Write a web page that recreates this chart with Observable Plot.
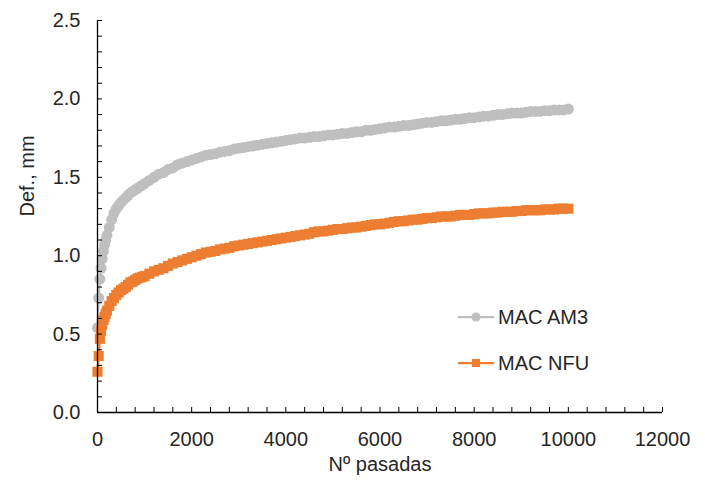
<!DOCTYPE html>
<html><head><meta charset="utf-8">
<script src="https://cdn.jsdelivr.net/npm/d3@7"></script>
<script src="https://cdn.jsdelivr.net/npm/@observablehq/plot@0.6"></script>
<style>
body{margin:0;background:#fff;font-family:"Liberation Sans",Arial,sans-serif;}
#wrap{position:relative;width:705px;height:480px;}
.leg{position:absolute;display:flex;align-items:center;font-size:20px;color:#262626;line-height:1;}
.leg svg{margin-right:4px;}
</style></head><body><div id="wrap"></div>
<script>
// Nº pasadas
const passes = [0, 25, 50, 75, 100, 125, 150, 175, 200, 250, 300, 350, 400, 450, 500,
  550, 600, 650, 700, 750, 800, 850, 900, 950, 1000,
  1100, 1200, 1300, 1400, 1500, 1600, 1700, 1800, 1900, 2000,
  2100, 2200, 2300, 2400, 2500, 2600, 2700, 2800, 2900, 3000,
  3100, 3200, 3300, 3400, 3500, 3600, 3700, 3800, 3900, 4000,
  4100, 4200, 4300, 4400, 4500, 4600, 4700, 4800, 4900, 5000,
  5100, 5200, 5300, 5400, 5500, 5600, 5700, 5800, 5900, 6000,
  6100, 6200, 6300, 6400, 6500, 6600, 6700, 6800, 6900, 7000,
  7100, 7200, 7300, 7400, 7500, 7600, 7700, 7800, 7900, 8000,
  8100, 8200, 8300, 8400, 8500, 8600, 8700, 8800, 8900, 9000,
  9100, 9200, 9300, 9400, 9500, 9600, 9700, 9800, 9900, 10000];
// Def., mm — MAC AM3
const macAM3 = [0.54, 0.73, 0.85, 0.92, 0.98, 1.03, 1.07, 1.10, 1.13, 1.18, 1.23, 1.27, 1.30, 1.32, 1.34,
  1.355, 1.37, 1.385, 1.40, 1.41, 1.42, 1.43, 1.44, 1.45, 1.46,
  1.48, 1.50, 1.52, 1.53, 1.55, 1.56, 1.58, 1.59, 1.60, 1.61,
  1.62, 1.63, 1.64, 1.645, 1.65, 1.66, 1.665, 1.67, 1.68, 1.685,
  1.69, 1.695, 1.70, 1.705, 1.71, 1.715, 1.72, 1.725, 1.73, 1.735,
  1.74, 1.745, 1.75, 1.75, 1.755, 1.76, 1.76, 1.765, 1.77, 1.77,
  1.775, 1.78, 1.78, 1.785, 1.79, 1.79, 1.80, 1.80, 1.805, 1.81,
  1.815, 1.82, 1.82, 1.825, 1.83, 1.83, 1.835, 1.84, 1.845, 1.85,
  1.85, 1.855, 1.86, 1.86, 1.865, 1.87, 1.87, 1.875, 1.88, 1.88,
  1.885, 1.89, 1.89, 1.895, 1.90, 1.90, 1.905, 1.91, 1.91, 1.91,
  1.915, 1.92, 1.92, 1.92, 1.925, 1.925, 1.93, 1.93, 1.93, 1.935];
// Def., mm — MAC NFU
const macNFU = [0.26, 0.36, 0.47, 0.52, 0.56, 0.59, 0.61, 0.63, 0.65, 0.68, 0.71, 0.73, 0.75, 0.765, 0.78,
  0.79, 0.80, 0.815, 0.83, 0.835, 0.845, 0.855, 0.86, 0.865, 0.87,
  0.885, 0.90, 0.91, 0.92, 0.935, 0.95, 0.96, 0.97, 0.98, 0.99,
  1.00, 1.01, 1.02, 1.025, 1.03, 1.04, 1.045, 1.05, 1.06, 1.065,
  1.07, 1.075, 1.08, 1.085, 1.09, 1.095, 1.10, 1.105, 1.11, 1.115,
  1.12, 1.125, 1.13, 1.135, 1.14, 1.15, 1.155, 1.155, 1.16, 1.165,
  1.17, 1.17, 1.175, 1.18, 1.18, 1.185, 1.19, 1.195, 1.20, 1.20,
  1.205, 1.21, 1.215, 1.22, 1.22, 1.225, 1.23, 1.23, 1.235, 1.24,
  1.24, 1.245, 1.25, 1.25, 1.25, 1.255, 1.26, 1.26, 1.26, 1.265,
  1.27, 1.27, 1.27, 1.275, 1.275, 1.28, 1.28, 1.28, 1.285, 1.285,
  1.29, 1.29, 1.29, 1.29, 1.295, 1.295, 1.295, 1.30, 1.30, 1.30];

const seriesNames = ["MAC AM3", "MAC NFU"];
const seriesColors = ["#BFBFBF", "#ED7D31"];
const xMajorTicks = [0, 2000, 4000, 6000, 8000, 10000, 12000];
const yMajorTicks = [0, 0.5, 1.0, 1.5, 2.0, 2.5];
const xMinorTicks = d3.range(0, 12001, 400);
const yMinorTicks = d3.range(0, 26).map(i => i / 10);
const xTitle = "Nº pasadas";
const yTitle = "Def., mm";

const am3 = passes.map((p, i) => ({x: p, y: macAM3[i]}));
const nfu = passes.map((p, i) => ({x: p, y: macNFU[i]}));

const chart = Plot.plot({
  width: 705, height: 480,
  marginTop: 20, marginRight: 43, marginBottom: 68, marginLeft: 97,
  style: {fontFamily: "'Liberation Sans', Arial, sans-serif", fontSize: "20px", color: "#262626", background: "white"},
  x: {domain: [0, 12000]},
  y: {domain: [0, 2.5]},
  marks: [
    Plot.line(am3, {x: "x", y: "y", stroke: seriesColors[0], strokeWidth: 2.25}),
    Plot.dot(am3, {x: "x", y: "y", r: 5.5, fill: seriesColors[0], stroke: "none"}),
    Plot.line(nfu, {x: "x", y: "y", stroke: seriesColors[1], strokeWidth: 2.25}),
    Plot.dot(nfu, {x: "x", y: "y", symbol: "square", r: 5.7, fill: seriesColors[1], stroke: "none"}),
    Plot.axisX({ticks: xMinorTicks, tickSize: -5, text: null, stroke: "#000", label: null}),
    Plot.axisX({ticks: xMajorTicks, tickSize: 0, tickPadding: 19, tickFormat: d3.format("d"), label: null}),
    Plot.axisY({ticks: yMinorTicks, tickSize: -5, text: null, stroke: "#000", label: null}),
    Plot.axisY({ticks: yMajorTicks, tickSize: 0, tickPadding: 17, tickFormat: d3.format(".1f"), label: null}),
    Plot.ruleY([0], {stroke: "#000", strokeWidth: 1.3}),
    Plot.ruleX([0], {stroke: "#000", strokeWidth: 1.3}),
    Plot.text([xTitle], {frameAnchor: "bottom", dy: 58, text: d => d, fontSize: 20, fill: "#262626"}),
    Plot.text([yTitle], {frameAnchor: "left", dx: -70, rotate: -90, text: d => d, fontSize: 20, fill: "#262626"})
  ]
});
const wrap = document.getElementById("wrap");
wrap.appendChild(chart);

// Legend
const legendPos = [{left: 458, top: 305}, {left: 458, top: 351}];
seriesNames.forEach((name, i) => {
  const div = document.createElement("div");
  div.className = "leg";
  div.style.left = legendPos[i].left + "px";
  div.style.top = legendPos[i].top + "px";
  const marker = i === 0
    ? `<circle cx="18" cy="12" r="4.6" fill="${seriesColors[i]}"/>`
    : `<rect x="14" y="8" width="8" height="8" fill="${seriesColors[i]}"/>`;
  div.innerHTML = `<svg width="36" height="24"><line x1="0" x2="36" y1="12" y2="12" stroke="${seriesColors[i]}" stroke-width="2.25"/>${marker}</svg><span>${name}</span>`;
  wrap.appendChild(div);
});
</script>
</body></html>
